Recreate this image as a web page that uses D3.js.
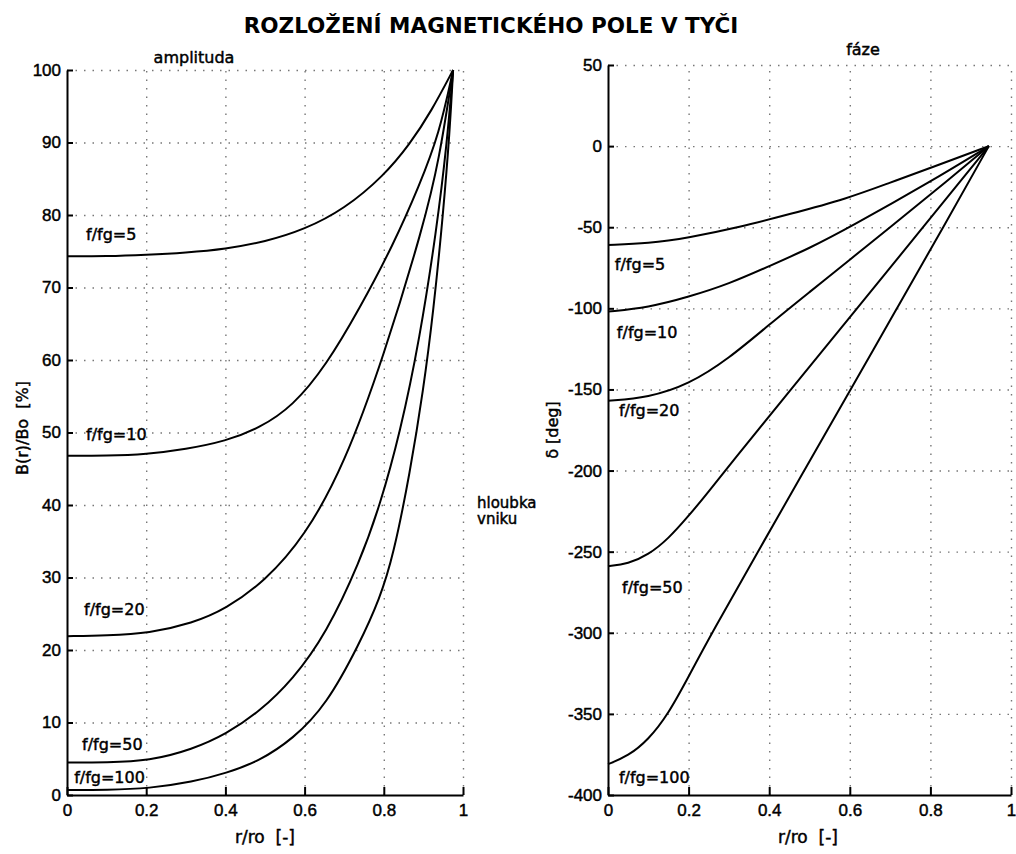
<!DOCTYPE html>
<html>
<head>
<meta charset="utf-8">
<script src="https://cdn.jsdelivr.net/npm/d3@7"></script>
<style>
body { margin: 0; background: #fff; }
svg { font-family: "DejaVu Sans", "Liberation Sans", sans-serif; }
svg text { fill: #000; stroke: #000; stroke-width: 0.45; }
.grid line { stroke: #777; stroke-width: 1.4; stroke-dasharray: 1.5, 7; }
.grid path { display: none; }
.axis path, .axis line { stroke: #000; stroke-width: 2; }
.axis text { font-size: 17px; }
.curve { fill: none; stroke: #000; stroke-width: 2; }
.lbl { font-size: 16px; }
</style>
</head>
<body>
<svg width="1016" height="854"></svg>
<script>
// values, [r/ro, value]
var freqs = ['f/fg=5', 'f/fg=10', 'f/fg=20', 'f/fg=50', 'f/fg=100'];

var amp5 = [[0, 74.3], [0.1, 74.3], [0.2, 74.5], [0.3, 74.8], [0.4, 75.3], [0.5, 76.3], [0.6, 78.0],
    [0.7, 80.8], [0.8, 85.4], [0.866, 89.8], [0.92, 94.3], [0.975, 100]];
var amp10 = [[0, 46.8], [0.1, 46.8], [0.2, 47.0], [0.3, 47.7], [0.4, 48.8], [0.486, 50.6], [0.57, 53.6],
    [0.655, 59.3], [0.739, 67.1], [0.824, 75.9], [0.89, 84.1], [0.94, 91.2], [0.975, 100]];
var amp20 = [[0, 21.9], [0.1, 22.0], [0.208, 22.3], [0.317, 23.7], [0.4, 25.6], [0.5, 29.5], [0.6, 35.6],
    [0.7, 45.5], [0.8, 60.5], [0.9, 78.5], [0.94, 87.6], [0.975, 100]];
var amp50 = [[0, 4.5], [0.1, 4.5], [0.208, 4.7], [0.317, 6.3], [0.402, 8.4], [0.486, 11.5], [0.57, 15.9],
    [0.655, 22.3], [0.739, 32.1], [0.79, 39.9], [0.841, 49.9], [0.891, 63.0], [0.933, 77.9], [0.959, 89.6], [0.975, 100]];
var amp100 = [[0, 0.7], [0.1, 0.7], [0.208, 0.9], [0.317, 1.8], [0.402, 3.0], [0.486, 4.7], [0.57, 7.7],
    [0.655, 12.4], [0.739, 20.9], [0.79, 27.1], [0.824, 33.0], [0.866, 44.4], [0.9, 55.9], [0.925, 66.6],
    [0.95, 80.2], [0.967, 91.9], [0.975, 100]];

var ph5 = [[0, -61], [0.1, -60], [0.2, -56.5], [0.327, -50], [0.45, -42], [0.592, -32.5], [0.7, -22.5],
    [0.8, -13.5], [0.945, 0]];
var ph10 = [[0, -102], [0.1, -99.5], [0.2, -93], [0.3, -85], [0.4, -74], [0.5, -63], [0.6, -50],
    [0.8, -22], [0.945, 0]];
var ph20 = [[0, -157], [0.1, -155], [0.2, -147], [0.3, -131], [0.4, -110], [0.5, -90], [0.6, -70],
    [0.7, -50], [0.8, -30], [0.945, 0]];
var ph50 = [[0, -259], [0.05, -257.5], [0.1, -252], [0.15, -242], [0.2, -228], [0.25, -213], [0.3, -197],
    [0.454, -150], [0.618, -100], [0.782, -50], [0.945, 0]];
var ph100 = [[0, -381], [0.05, -376], [0.1, -366], [0.15, -350], [0.2, -327], [0.258, -300], [0.372, -250],
    [0.487, -200], [0.602, -150], [0.717, -100], [0.832, -50], [0.945, 0]];

var rTicks = [0, 0.2, 0.4, 0.6, 0.8, 1];
var ampTicks = [0, 10, 20, 30, 40, 50, 60, 70, 80, 90, 100];
var phTicks = [-400, -350, -300, -250, -200, -150, -100, -50, 0, 50];

// where the curve names sit, in data units of each panel
var ampLabelAt = [[0.048, 76.6], [0.048, 49.0], [0.043, 24.8], [0.038, 6.2], [0.018, 1.7]];
var phLabelAt = [[0.017, -76.2], [0.022, -118.1], [0.027, -166.1], [0.035, -275.7], [0.027, -392.6]];

var svg = d3.select('svg');
svg.append('rect').attr('width', 1016).attr('height', 854).attr('fill', '#fff');

var xL = d3.scaleLinear().domain([0, 1]).range([67, 463]),
    yL = d3.scaleLinear().domain([0, 100]).range([795, 70]),
    xR = d3.scaleLinear().domain([0, 1]).range([608, 1011]),
    yR = d3.scaleLinear().domain([-400, 50]).range([795, 65]);

function panel(x, y, yTicks, series, labelAt) {
    var g = svg.append('g');
    var x0 = x.range()[0], y0 = y.range()[0];

    g.append('g').attr('class', 'grid')
        .attr('transform', 'translate(0,' + y0 + ')')
        .call(d3.axisBottom(x).tickValues(rTicks.slice(1)).tickSize(y.range()[1] - y0).tickFormat(''));
    g.append('g').attr('class', 'grid')
        .attr('transform', 'translate(' + x0 + ',0)')
        .call(d3.axisLeft(y).tickValues(yTicks.slice(1)).tickSize(x0 - x.range()[1]).tickFormat(''));

    var line = d3.line()
        .x(function(d) { return x(d[0]); })
        .y(function(d) { return y(d[1]); })
        .curve(d3.curveBasis);

    g.selectAll('.curve')
        .data(series)
        .enter()
        .append('path')
        .attr('class', 'curve')
        .attr('d', line);

    g.selectAll('.lbl')
        .data(labelAt)
        .enter()
        .append('text')
        .attr('class', 'lbl')
        .attr('x', function(d) { return x(d[0]); })
        .attr('y', function(d) { return y(d[1]); })
        .text(function(d, i) { return freqs[i]; });

    g.append('g').attr('class', 'axis')
        .attr('transform', 'translate(0,' + y0 + ')')
        .call(d3.axisBottom(x).tickValues(rTicks).tickSizeInner(-8).tickSizeOuter(0).tickPadding(9)
            .tickFormat(function(d) { return String(d); }));
    g.append('g').attr('class', 'axis')
        .attr('transform', 'translate(' + x0 + ',0)')
        .call(d3.axisLeft(y).tickValues(yTicks).tickSizeInner(-6).tickSizeOuter(0).tickPadding(6)
            .tickFormat(function(d) { return String(d); }));
}

panel(xL, yL, ampTicks, [amp5, amp10, amp20, amp50, amp100], ampLabelAt);
panel(xR, yR, phTicks, [ph5, ph10, ph20, ph50, ph100], phLabelAt);

svg.append('text')
    .attr('x', 491).attr('y', 33)
    .attr('text-anchor', 'middle')
    .style('font-size', '21.5px').style('font-weight', 'bold').style('stroke-width', 0)
    .text('ROZLOŽENÍ MAGNETICKÉHO POLE V TYČI');

svg.append('text').attr('x', 194).attr('y', 63).attr('text-anchor', 'middle')
    .style('font-size', '16px').text('amplituda');
svg.append('text').attr('x', 863).attr('y', 55).attr('text-anchor', 'middle')
    .style('font-size', '16px').text('fáze');

svg.append('text').attr('x', 265).attr('y', 843).attr('text-anchor', 'middle')
    .style('font-size', '17px').text('r/ro\u00a0\u00a0[-]');
svg.append('text').attr('x', 808).attr('y', 843).attr('text-anchor', 'middle')
    .style('font-size', '17px').text('r/ro\u00a0\u00a0[-]');

svg.append('text')
    .attr('transform', 'translate(28,428) rotate(-90)')
    .attr('text-anchor', 'middle')
    .style('font-size', '16px')
    .text('B(r)/Bo\u00a0\u00a0[%]');
svg.append('text')
    .attr('transform', 'translate(558,430) rotate(-90)')
    .attr('text-anchor', 'middle')
    .style('font-size', '16px')
    .text('δ [deg]');

var note = svg.append('text').attr('x', 477).style('font-size', '15px');
note.append('tspan').attr('x', 477).attr('y', 508).text('hloubka');
note.append('tspan').attr('x', 477).attr('y', 524).text('vniku');
</script>
</body>
</html>
